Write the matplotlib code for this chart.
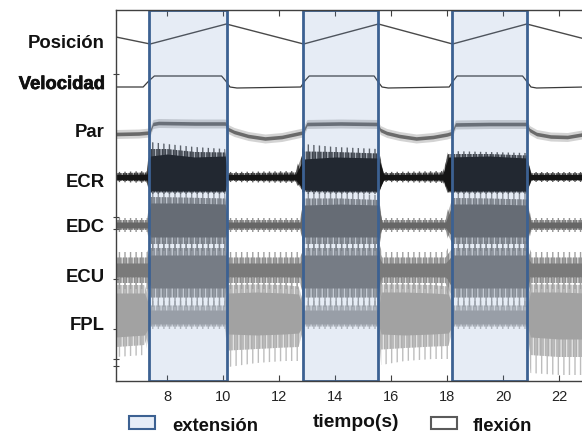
import numpy as np
import matplotlib
matplotlib.use("Agg")
import matplotlib.pyplot as plt
from matplotlib.patches import Rectangle
from matplotlib.colors import to_rgba
import matplotlib.patheffects as pe

# ---------------------------------------------------------------- data
# extension phases (s)
ext_start = [7.36, 12.85, 18.19]
ext_end = [10.13, 15.55, 20.85]

# wrist position (deg, relative)
pos_t = [6.18, 7.40, 10.12, 12.88, 15.55, 18.20, 20.85, 22.93]
pos_val = [-3, -10, 10, -10, 10, -10, 10, -5]

# angular velocity (relative units)
vel_t = [6.18, 7.15, 7.35, 7.55, 9.95, 10.10, 10.25, 10.5, 12.78, 12.92, 13.08,
         15.40, 15.52, 15.68, 15.9, 18.08, 18.22, 18.36, 20.70, 20.84, 21.00, 21.2, 22.93]
vel_val = [0, 0, 6, 11, 11, 6, 0, -1, 0, 6, 11,
           11, 6, 0, -1, 0, 6, 11, 11, 6, 0, -1, 0]

# torque (relative units)
par_t = [6.18, 7.0, 7.38, 7.50, 7.7, 9.0, 10.08, 10.18, 10.4, 10.9, 11.5, 12.1, 12.6,
         12.85, 13.0, 14.2, 15.52, 15.62, 15.85, 16.3, 16.9, 17.5, 18.0, 18.18, 18.30,
         19.5, 20.82, 20.95, 21.2, 21.7, 22.3, 22.93]
par_val = [-5, -4.5, -3.5, 5, 6, 5.5, 5.5, 0, -3, -7, -9.5, -8, -5,
           -3.5, 5, 5.5, 5, -1, -4, -7, -9.5, -8, -5.5, -4, 4.5,
           5, 5, -1, -5, -7.5, -8, -5]

# EMG envelopes: core (dense) and spike extent, upper / lower
ecr_t = [6.18, 7.28, 7.40, 8.0, 9.0, 10.08, 10.16, 12.60, 12.88, 14.0, 15.55, 15.75,
         17.85, 18.05, 19.5, 20.85, 21.00, 22.93]
ecr_core_hi = [2.5, 3, 21, 23, 20, 21, 2.5, 3, 18, 20, 19, 2.5, 3, 20, 21, 19, 2.5, 2.5]
ecr_core_lo = [-2.5, -3, -14, -14, -14, -14, -2.5, -3, -13, -14, -14, -2.5, -3, -14, -14, -14, -2.5, -2.5]
ecr_spk_hi = [5, 6, 35, 33, 30, 28, 5, 6, 33, 30, 28, 5, 6, 26, 25, 24, 5, 5]
ecr_spk_lo = [-5, -6, -17, -17, -17, -17, -5, -6, -17, -17, -17, -5, -6, -17, -17, -17, -5, -5]

edc_t = [6.18, 7.30, 7.42, 8.5, 10.08, 10.16, 12.75, 12.90, 14.2, 15.55, 15.68,
         17.95, 18.20, 19.5, 20.85, 21.00, 22.93]
edc_core_hi = [3, 3, 22, 22, 21, 3, 3, 20, 21, 20, 3, 3, 21, 21, 20, 3, 3]
edc_core_lo = [-3, -3, -12, -12, -12, -3, -3, -12, -12, -12, -3, -3, -12, -12, -12, -3, -3]
edc_spk_hi = [7, 7, 34, 33, 32, 7, 7, 33, 32, 30, 7, 7, 33, 32, 31, 7, 7]
edc_spk_lo = [-7, -7, -26, -26, -26, -7, -7, -26, -26, -26, -7, -7, -26, -26, -26, -7, -7]

ecu_t = [6.18, 7.30, 7.42, 8.5, 10.08, 10.16, 12.75, 12.90, 14.2, 15.55, 15.68,
         17.95, 18.20, 19.5, 20.85, 21.00, 22.93]
ecu_core_hi = [8, 8, 16, 16, 16, 8, 8, 16, 16, 16, 8, 8, 16, 16, 16, 8, 8]
ecu_core_lo = [-6, -6, -17, -17, -17, -6, -6, -17, -17, -17, -6, -6, -17, -17, -17, -6, -6]
ecu_spk_hi = [19, 19, 30, 30, 30, 19, 19, 30, 30, 30, 19, 19, 30, 30, 30, 19, 19]
ecu_spk_lo = [-18, -18, -36, -36, -36, -18, -18, -36, -36, -36, -18, -18, -36, -36, -36, -18, -18]

fpl_t = [6.18, 7.20, 7.42, 8.5, 10.08, 10.20, 11.2, 12.2, 12.70, 12.90, 14.2, 15.55,
         15.65, 16.5, 17.5, 18.05, 18.25, 19.5, 20.85, 20.98, 22.0, 22.93]
fpl_core_hi = [24, 24, 7, 7, 7, 24, 25, 24, 23, 7, 7, 7, 25, 25, 24, 23, 7, 7, 7, 25, 25, 24]
fpl_core_lo = [-20, -18, -7, -7, -7, -17, -18, -17, -16, -7, -7, -7, -17, -18, -17, -16, -7, -7, -7, -20, -22, -22]
fpl_spk_hi = [40, 40, 16, 16, 16, 40, 40, 40, 38, 16, 16, 16, 40, 40, 40, 38, 16, 16, 16, 40, 40, 40]
fpl_spk_lo = [-40, -38, -12, -12, -12, -50, -46, -44, -44, -12, -12, -12, -48, -44, -42, -42, -12, -12, -12, -56, -58, -58]

channels = ["Posición", "Velocidad", "Par", "ECR", "EDC", "ECU", "FPL"]
xticks = [8, 10, 12, 14, 16, 18, 20, 22]

# ---------------------------------------------------------------- layout
W, H = 582, 435
fig = plt.figure(figsize=(W / 100, H / 100), dpi=100)
ax_l, ax_r, ax_t, ax_b = 116, 585, 11, 382
ax = fig.add_axes([ax_l / W, 1 - ax_b / H, (ax_r - ax_l) / W, (ax_b - ax_t) / H])
x0 = 6.18
x1 = x0 + (ax_r - ax_l) / 28.0
ax.set_xlim(x0, x1)
ax.set_ylim(0, ax_b - ax_t)
plt.rcParams["hatch.linewidth"] = 1.0


def level(py):
    """vertical trace offset for a pixel row"""
    return ax_b - py


base = {"pos": level(35), "vel": level(88), "par": level(130), "ECR": level(178),
        "EDC": level(226), "ECU": level(272), "FPL": level(318)}

ax.plot(pos_t, base["pos"] + np.array(pos_val), color="#4a4a4a", lw=1.0, zorder=3)
ax.plot(vel_t, base["vel"] + np.array(vel_val), color="#3a3a3a", lw=0.9, zorder=3)

pt = np.array(par_t)
pv = base["par"] + np.array(par_val)
ax.fill_between(pt, pv - 4.5, pv + 4.5, color="#707070", alpha=0.3, lw=0, zorder=2)
ax.fill_between(pt, pv - 1.8, pv + 1.8, color="#6a6a6a", lw=0, zorder=2.1)


def emg(key, t, chi, clo, shi, slo, color, z):
    t = np.asarray(t)
    b = base[key]
    # sparse outer spikes, denser inner fringe, solid core
    ax.fill_between(t, b + np.asarray(slo), b + np.asarray(shi), facecolor="none",
                    edgecolor=to_rgba(color, 0.7), hatch="|||", lw=0, zorder=z)
    mid_hi = (np.asarray(shi) + np.asarray(chi)) / 2
    mid_lo = (np.asarray(slo) + np.asarray(clo)) / 2
    ax.fill_between(t, b + mid_lo, b + mid_hi, facecolor=to_rgba(color, 0.3),
                    edgecolor=to_rgba(color, 0.8), hatch="||||||", lw=0,
                    zorder=z + 0.02)
    ax.fill_between(t, b + np.asarray(clo), b + np.asarray(chi), color=color,
                    lw=0, zorder=z + 0.05)


emg("ECR", ecr_t, ecr_core_hi, ecr_core_lo, ecr_spk_hi, ecr_spk_lo, "#151515", 2.0)
emg("EDC", edc_t, edc_core_hi, edc_core_lo, edc_spk_hi, edc_spk_lo, "#666666", 2.2)
emg("ECU", ecu_t, ecu_core_hi, ecu_core_lo, ecu_spk_hi, ecu_spk_lo, "#7a7a7a", 2.4)
emg("FPL", fpl_t, fpl_core_hi, fpl_core_lo, fpl_spk_hi, fpl_spk_lo, "#a2a2a2", 2.6)

# extension phases: tinted overlay with solid frame
for s, e in zip(ext_start, ext_end):
    ax.axvspan(s, e, facecolor=(0.40, 0.55, 0.77, 0.16), edgecolor="none", zorder=4)
    ax.axvspan(s, e, facecolor="none", edgecolor="#3c6192", lw=2.0, zorder=5)

# axes cosmetics
for sp in ax.spines.values():
    sp.set_color("#404040")
    sp.set_linewidth(1.0)
    sp.set_zorder(6)
ax.set_xticks(xticks)
ax.set_xticklabels([str(v) for v in xticks], family="Liberation Sans", fontsize=10.5,
                   color="#222222")
ax.tick_params(axis="x", direction="in", length=4, width=0.8, top=True, pad=6,
               color="#404040")
ax.set_yticks([level(p) for p in (75, 218, 230, 280, 330, 360, 367)])
ax.set_yticklabels([])
ax.tick_params(axis="y", direction="inout", length=4, width=0.8, right=True,
               color="#404040")

# channel names
label_base = [48, 90, 137, 187, 232, 282, 330]
for name, yb in zip(channels, label_base):
    txt = fig.text(105 / W, 1 - yb / H, name, ha="right", va="baseline",
                   family="Liberation Sans", fontweight="bold", fontsize=13.3,
                   color="#111111")
    if name == "Velocidad":
        txt.set_path_effects([pe.withStroke(linewidth=0.5, foreground="#111111")])

# bottom key
fig.patches.append(Rectangle((129 / W, 1 - 430 / H), 26 / W, 13 / H,
                             transform=fig.transFigure, facecolor="#e6edf7",
                             edgecolor="#3c6192", lw=1.5))
fig.patches.append(Rectangle((431 / W, 1 - 430 / H), 26 / W, 12 / H,
                             transform=fig.transFigure, facecolor="white",
                             edgecolor="#5a5a5a", lw=1.5))
fig.text(172 / W, 1 - 431 / H, "extensión", ha="left", va="baseline",
         family="Liberation Sans", fontweight="bold", fontsize=13.3, color="#111111")
fig.text(356 / W, 1 - 427 / H, "tiempo(s)", ha="center", va="baseline",
         family="Liberation Sans", fontweight="bold", fontsize=13.8, color="#111111")
fig.text(473 / W, 1 - 431 / H, "flexión", ha="left", va="baseline",
         family="Liberation Sans", fontweight="bold", fontsize=13.3, color="#111111")

fig.savefig("out.png", dpi=100)
